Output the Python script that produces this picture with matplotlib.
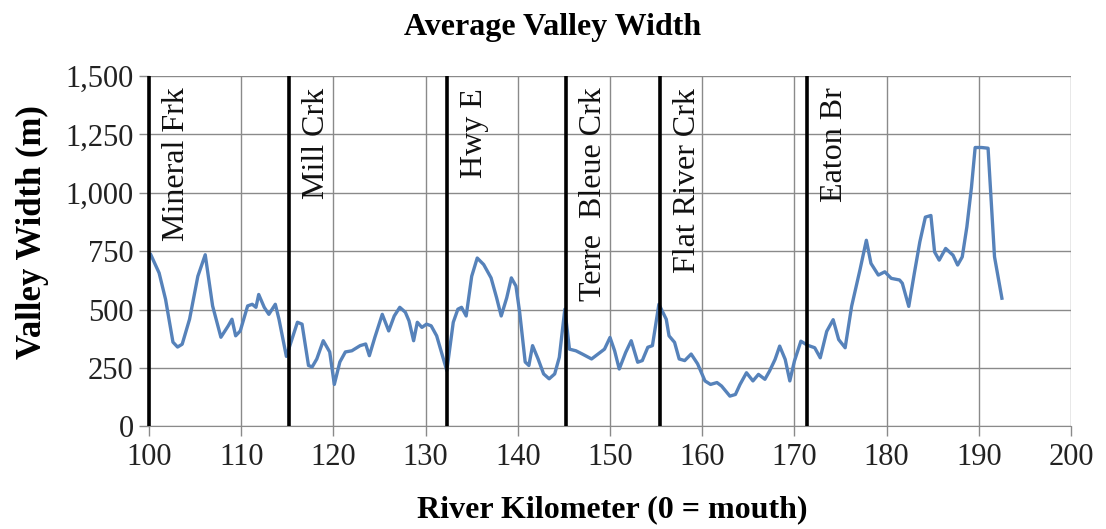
import matplotlib
matplotlib.use("Agg")
import matplotlib.pyplot as plt

# River kilometer and average valley width (m)
km = [100.2, 101.1, 101.8, 102.6, 103.1, 103.6, 104.4, 105.3, 106.1, 106.9,
      107.8, 108.6, 109.0, 109.4, 109.9, 110.7, 111.2, 111.6, 111.9, 112.5,
      113.0, 113.7, 114.1, 114.9, 116.1, 116.6, 117.3, 117.7, 118.2, 118.9,
      119.6, 120.1, 120.7, 121.3, 122.0, 122.9, 123.5, 123.9, 124.5, 125.3,
      126.0, 126.6, 127.2, 127.8, 128.2, 128.7, 129.1, 129.6, 130.1, 130.6,
      131.2, 132.3, 133.0, 133.5, 133.9, 134.4, 135.0, 135.6, 136.3, 137.1,
      137.7, 138.2, 138.8, 139.3, 139.8, 140.2, 140.8, 141.2, 141.6, 142.2,
      142.8, 143.4, 144.0, 144.5, 145.1, 145.6, 146.3, 147.0, 148.0, 148.7,
      149.4, 150.0, 150.5, 151.0, 151.7, 152.3, 153.0, 153.5, 154.1, 154.6,
      155.3, 156.1, 156.4, 157.0, 157.5, 158.1, 158.8, 159.5, 160.3, 160.9,
      161.6, 162.1, 163.0, 163.6, 164.1, 164.8, 165.5, 166.1, 166.8, 167.3,
      167.9, 168.4, 169.0, 169.5, 170.0, 170.7, 171.4, 172.2, 172.8, 173.5,
      174.2, 174.8, 175.5, 176.2, 177.1, 177.8, 178.3, 179.1, 179.8, 180.5,
      181.4, 181.7, 182.4, 183.0, 183.6, 184.2, 184.8, 185.2, 185.7, 186.4,
      187.2, 187.7, 188.2, 188.7, 189.2, 189.6, 190.3, 191.0, 191.7, 192.5]
width = [735, 657, 544, 361, 340, 352, 459, 643, 735, 516,
         382, 431, 459, 388, 409, 516, 523, 510, 565, 510,
         480, 523, 459, 300, 446, 438, 261, 255, 289, 367,
         319, 180, 276, 319, 324, 346, 353, 303, 382, 480,
         409, 473, 510, 489, 452, 367, 446, 424, 438, 431,
         388, 239, 446, 502, 510, 473, 643, 721, 693, 636,
         551, 473, 551, 636, 601, 489, 276, 261, 346, 289,
         225, 204, 225, 296, 502, 331, 324, 310, 289, 310,
         331, 381, 324, 246, 317, 367, 275, 282, 339, 346,
         523, 459, 388, 360, 289, 282, 310, 268, 195, 180,
         188, 173, 130, 137, 180, 230, 195, 223, 202, 237,
         287, 344, 287, 195, 280, 365, 348, 337, 294, 407,
         457, 372, 337, 514, 669, 797, 698, 648, 662, 634,
         627, 613, 514, 655, 790, 896, 903, 747, 712, 762,
         733, 691, 726, 854, 1024, 1194, 1194, 1191, 726, 549]

# Landmark reference lines
landmark_km = [100.0, 115.15, 132.3, 145.2, 155.4, 171.4]
landmark_names = ["Mineral Frk", "Mill Crk", "Hwy E", "Terre  Bleue Crk",
                  "Flat River Crk", "Eaton Br"]

x_ticks = [100, 110, 120, 130, 140, 150, 160, 170, 180, 190, 200]
y_ticks = [0, 250, 500, 750, 1000, 1250, 1500]
y_tick_labels = ["0", "250", "500", "750", "1,000", "1,250", "1,500"]

plt.rcParams['font.family'] = ['Liberation Serif', 'DejaVu Serif']

fig = plt.figure(figsize=(11.06, 5.29), dpi=100)
ax = fig.add_axes([0.1347, 0.1938, 0.9684 - 0.1347, 0.8563 - 0.1938])

grid_col = '#8a8a8a'
ax.set_xlim(100, 200)
ax.set_ylim(0, 1500)
ax.set_xticks(x_ticks)
ax.set_yticks(y_ticks)
ax.set_yticklabels(y_tick_labels)
ax.grid(True, color=grid_col, linewidth=1.0)
ax.set_axisbelow(True)
for s in ['top', 'right']:
    ax.spines[s].set_visible(False)
ax.spines['bottom'].set_color(grid_col)
ax.spines['left'].set_color(grid_col)
ax.tick_params(axis='both', colors=grid_col, labelcolor='#222222',
               labelsize=22, length=7, width=1.0)
ax.tick_params(axis='x', pad=5)
ax.tick_params(axis='y', pad=4)

ax.plot(km, width, color='#5682ba', linewidth=2.4, zorder=3,
        solid_joinstyle='round')

for xk, name in zip(landmark_km, landmark_names):
    ax.plot([xk, xk], [0, 1500], color='black', linewidth=2.6, zorder=4,
            solid_capstyle='butt', clip_on=False)
    ax.text(xk + 3.0, 1450, name, rotation=90, ha='center', va='top',
            fontsize=23, color='#111111', zorder=5)

fig.suptitle("Average Valley Width", x=0.5, y=0.976, fontsize=23,
             fontweight='bold', va='top')
fig.text(0.5535, 0.036, "River Kilometer (0 = mouth)", ha='center',
         va='center', fontsize=23, fontweight='bold')
fig.text(0.029, 1 - 232 / 529, "Valley Width (m)", ha='center',
         va='center', rotation=90, fontsize=25, fontweight='bold')

fig.savefig("out.png", dpi=100)
